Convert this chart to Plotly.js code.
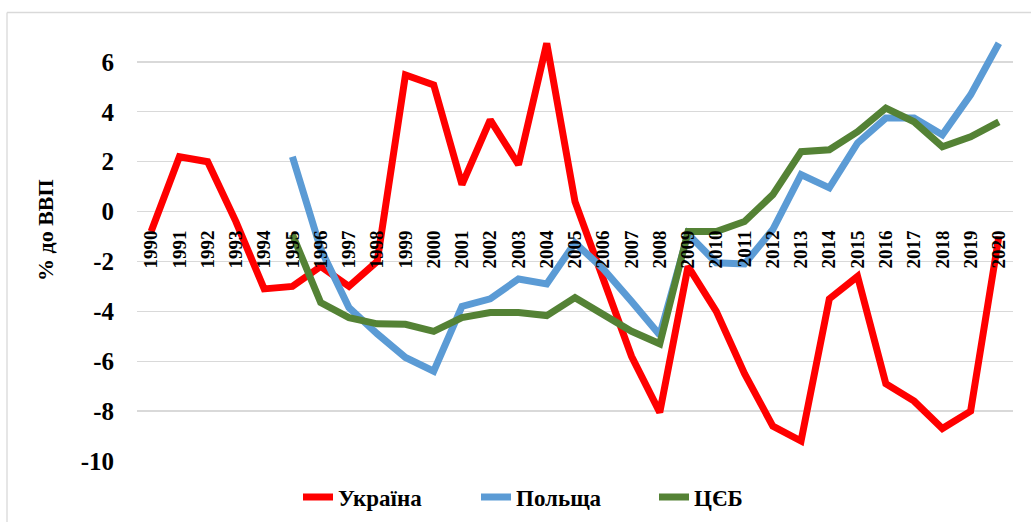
<!DOCTYPE html>
<html>
<head>
<meta charset="utf-8">
<script src="https://cdn.plot.ly/plotly-3.0.1.min.js"></script>
<style>html,body{margin:0;padding:0;background:#fff;}#chart{width:1031px;height:522px;}</style>
</head>
<body>
<div id="chart"></div>
<script>
var years = ['1990','1991','1992','1993','1994','1995','1996','1997','1998','1999','2000','2001','2002','2003','2004','2005','2006','2007','2008','2009','2010','2011','2012','2013','2014','2015','2016','2017','2018','2019','2020'];
var ukraine = [-0.8, 2.2, 2.0, -0.4, -3.1, -3.0, -2.2, -3.0, -2.0, 5.48, 5.08, 1.08, 3.68, 1.88, 6.75, 0.4, -2.7, -5.8, -8.05, -2.2, -4.0, -6.5, -8.6, -9.2, -3.5, -2.6, -6.9, -7.6, -8.7, -8.0, -1.0];
var poland = [null, null, null, null, null, 2.2, -1.5, -3.85, -4.9, -5.85, -6.4, -3.8, -3.5, -2.7, -2.9, -1.25, -2.3, -3.6, -4.95, -0.9, -2.05, -2.1, -0.72, 1.48, 0.95, 2.75, 3.75, 3.75, 3.08, 4.68, 6.75];
var ceb = [null, null, null, null, null, -0.92, -3.65, -4.25, -4.5, -4.52, -4.8, -4.25, -4.05, -4.05, -4.17, -3.45, -4.15, -4.8, -5.3, -0.8, -0.8, -0.4, 0.68, 2.4, 2.48, 3.2, 4.15, 3.6, 2.6, 3.0, 3.6];
var seriesNames = ['Україна', 'Польща', 'ЦЄБ'];
var yTicks = [-10, -8, -6, -4, -2, 0, 2, 4, 6];
var yTitle = '% до ВВП';

var font = 'Liberation Serif';
function tr(y, name, color) {
  return {x: years, y: y, name: name, type: 'scatter', mode: 'lines',
    line: {color: color, width: 7}, connectgaps: false};
}
var data = [
  tr(ukraine, seriesNames[0], '#FF0000'),
  tr(poland, seriesNames[1], '#5B9BD5'),
  tr(ceb, seriesNames[2], '#548235')
];
var layout = {
  width: 1031, height: 522,
  margin: {l: 137, r: 18, t: 37, b: 61},
  paper_bgcolor: '#fff', plot_bgcolor: '#fff',
  font: {family: font, color: '#000'},
  showlegend: true,
  legend: {orientation: 'h', x: 298 / 1031, xanchor: 'left', xref: 'container', yref: 'container', y: (522 - 497) / 522, yanchor: 'middle',
    font: {family: font, size: 23, color: '#000', weight: 'bold'}, entrywidth: 133},
  xaxis: {type: 'category', range: [-0.5, 30.5], anchor: 'free', position: 10/17,
    tickangle: -90, showgrid: false, zeroline: false, showline: false, ticks: '',
    ticklabelstandoff: 14, automargin: false,
    tickfont: {family: font, size: 19, color: '#000', weight: 'bold'}},
  yaxis: {range: [-10, 7], tickvals: yTicks, ticktext: yTicks.map(String), automargin: false,
    showgrid: true, gridcolor: '#D9D9D9', gridwidth: 1.3, zeroline: true, zerolinecolor: '#D9D9D9', zerolinewidth: 1.3,
    showline: false, ticks: '', ticklabelstandoff: 22,
    tickfont: {family: font, size: 25, color: '#000', weight: 'bold'}},
  annotations: [{text: yTitle, xref: 'paper', yref: 'paper', x: (45 - 137) / 876, y: (461 - 230) / 424,
    xanchor: 'center', yanchor: 'middle', textangle: -90, showarrow: false,
    font: {family: font, size: 22, color: '#000', weight: 'bold'}}],
  shapes: [
    {type: 'line', xref: 'paper', yref: 'paper', x0: (7 - 137) / 876, x1: (1031 - 137) / 876, y0: (461 - 12.5) / 424, y1: (461 - 12.5) / 424, line: {color: '#D9D9D9', width: 1.3}},
    {type: 'line', xref: 'paper', yref: 'paper', x0: (7 - 137) / 876, x1: (7 - 137) / 876, y0: (461 - 12.5) / 424, y1: (461 - 530) / 424, line: {color: '#D9D9D9', width: 1.3}}
  ]
};
Plotly.newPlot('chart', data, layout, {displayModeBar: false, staticPlot: true});
</script>
</body>
</html>
